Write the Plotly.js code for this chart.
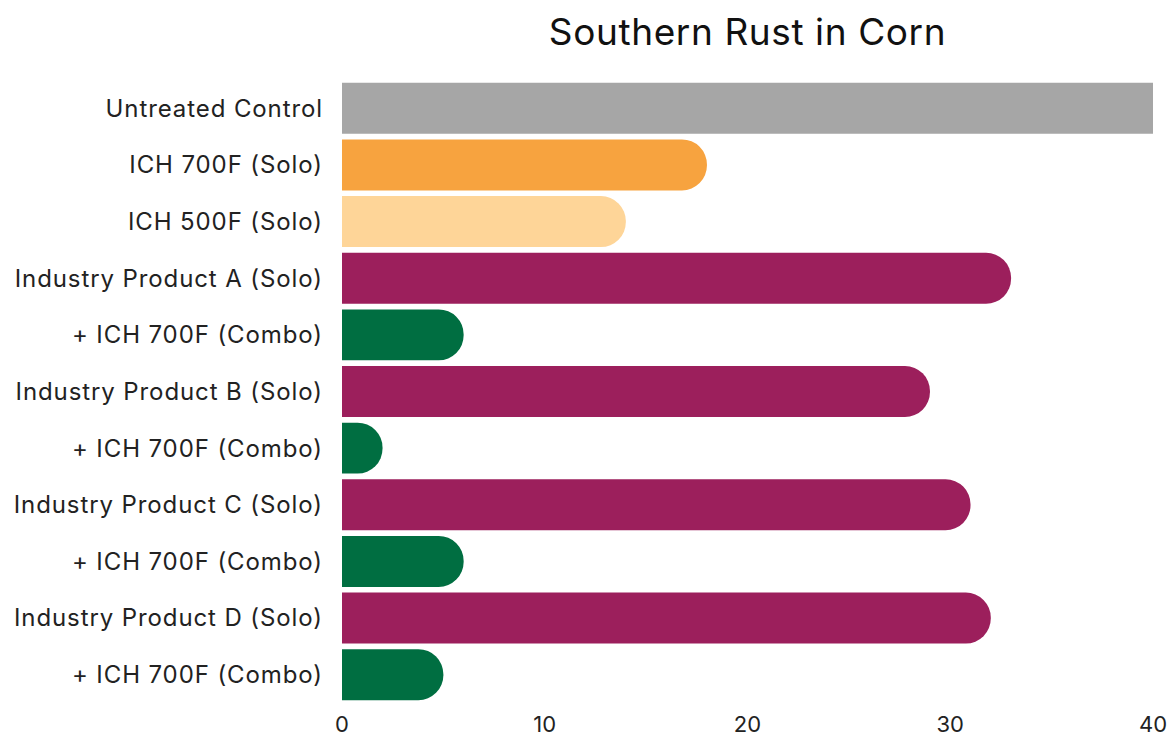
<!DOCTYPE html>
<html>
<head>
<meta charset="utf-8">
<script src="https://cdn.plot.ly/plotly-3.0.1.min.js"></script>
<style>
html,body{margin:0;padding:0;background:#fff;}
#chart{width:1173px;height:737px;}
#chart .ytick text{letter-spacing:0.9px;}
#chart .gtitle{letter-spacing:0.6px;}
</style>
</head>
<body>
<div id="chart"></div>
<script>
// ---- data ----
const categories = [
  "Untreated Control",
  "ICH 700F (Solo)",
  "ICH 500F (Solo)",
  "Industry Product A (Solo)",
  "+ ICH 700F (Combo)",
  "Industry Product B (Solo)",
  "+ ICH 700F (Combo)",
  "Industry Product C (Solo)",
  "+ ICH 700F (Combo)",
  "Industry Product D (Solo)",
  "+ ICH 700F (Combo)"
];
const values = [40, 18, 14, 33, 6, 29, 2, 31, 6, 32, 5];
const groups = ["control", "ich700", "ich500", "solo", "combo", "solo", "combo", "solo", "combo", "solo", "combo"];
const xTicks = [0, 10, 20, 30, 40];

// ---- style ----
const palette = {
  control: "#a6a6a6",
  ich700: "#f7a33f",
  ich500: "#fed598",
  solo: "#9c1f5c",
  combo: "#006e41"
};

const rows = categories.map((_, i) => i);
const ctrlIdx = rows.filter(i => groups[i] === "control");
const restIdx = rows.filter(i => groups[i] !== "control");

const traces = [
  {
    type: "bar", orientation: "h",
    y: ctrlIdx, x: ctrlIdx.map(i => values[i]),
    text: ctrlIdx.map(i => categories[i]),
    marker: { color: ctrlIdx.map(i => palette[groups[i]]), line: { width: 0 } },
    textposition: "none", hoverinfo: "text+x"
  },
  {
    type: "bar", orientation: "h",
    y: restIdx, x: restIdx.map(i => values[i]),
    text: restIdx.map(i => categories[i]),
    marker: { color: restIdx.map(i => palette[groups[i]]), cornerradius: "50%", line: { width: 0 } },
    textposition: "none", hoverinfo: "text+x"
  }
];

const font = "Inter, 'Open Sans', sans-serif";
const layout = {
  width: 1173, height: 737,
  margin: { l: 342, r: 20, t: 80, b: 34 },
  paper_bgcolor: "#fff", plot_bgcolor: "#fff",
  showlegend: false,
  barmode: "overlay",
  bargap: 0.1,
  title: {
    text: "Southern Rust in Corn",
    font: { family: font, size: 37, color: "#111" },
    x: 0.5, xref: "paper", xanchor: "center",
    y: 0.957, yref: "container", yanchor: "middle"
  },
  xaxis: {
    range: [0, 40],
    tickvals: xTicks,
    ticktext: xTicks.map(String),
    showgrid: false, zeroline: false, showline: false,
    ticks: "",
    ticklabelstandoff: 6,
    tickfont: { family: font, size: 22, color: "#222" },
    fixedrange: true
  },
  yaxis: {
    range: [10.5, -0.5],
    tickvals: rows,
    ticktext: categories,
    showgrid: false, zeroline: false, showline: false,
    ticks: "",
    ticklabelstandoff: 18,
    tickfont: { family: font, size: 24, color: "#222" },
    fixedrange: true
  }
};

Plotly.newPlot("chart", traces, layout, { displayModeBar: false, staticPlot: true });
</script>
</body>
</html>
